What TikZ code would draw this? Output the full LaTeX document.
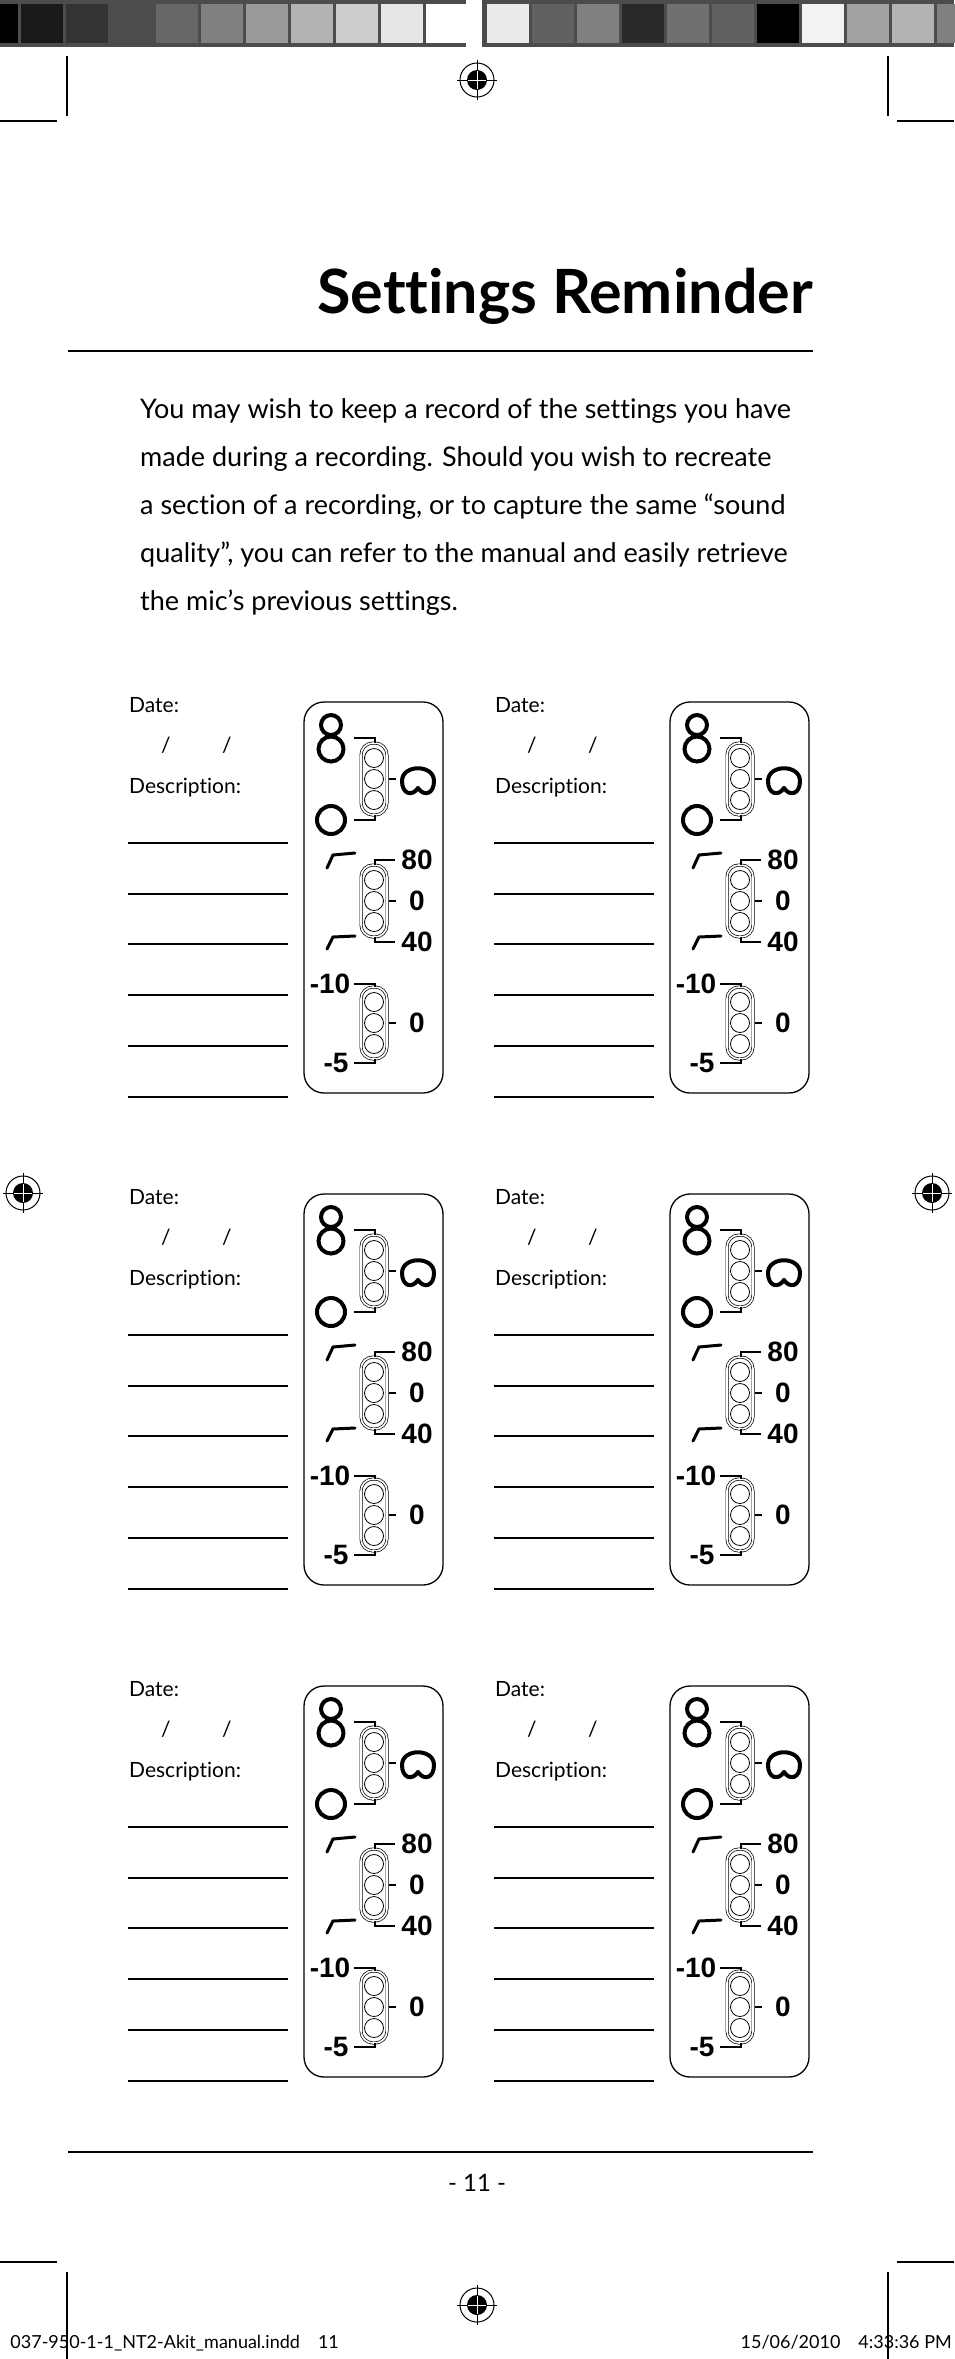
\documentclass[tikz,border=0pt]{standalone}
\usepackage{fontspec}
\setmainfont{Lato}[Ligatures=NoCommon]
\newfontfamily\numfont{Liberation Sans}
\usetikzlibrary{positioning, calc}

\tikzset{
  lbl/.style={font=\fontsize{21}{21}\selectfont, anchor=base west, inner sep=0pt},
  num/.style={font=\numfont\bfseries\fontsize{28}{28}\selectfont, inner sep=0pt},
  sym/.style={line width=4pt, line cap=round},
  rule/.style={line width=1.2pt},
  capsule/.style={line width=0.7pt, double, double distance=1.6pt},
  regmark/.style={line width=1pt}
}
% capsule switch with three positions
\newcommand{\capsw}[2]{%
  \draw[capsule, rounded corners=12pt] (57,#2-36) rectangle (83,#2+36);
  \foreach \k in {-21,0,21} \draw[line width=0.8pt] (70,#2+\k) circle (9.5);
}
\newcommand{\regm}[2]{%
  \draw[regmark] (#1,#2) circle (17);
  \fill (#1,#2) circle (10);
  \draw[regmark] (#1-20,#2) -- (#1+20,#2) (#1,#2-20) -- (#1,#2+20);
  \draw[white, line width=1pt] (#1-9,#2) -- (#1+9,#2) (#1,#2-9) -- (#1,#2+9);
}

\begin{document}
\begin{tikzpicture}[x=1pt, y=-1pt]
\useasboundingbox (0,0) rectangle (954,2359);
% colour bar
\fill[gray!60!black] (0,0) rectangle (466,47);
\fill[gray!60!black] (482,0) rectangle (954,47);
\foreach \g [count=\i from 0] in {0,10,20,30,40,50,60,70,80,90,100} {
  \fill[white!\g!black] ({-24+45*\i},4) rectangle ({18+45*\i},43);
}
\foreach \g [count=\i from 0] in {92,38,50,16,44,38,0,95,63,70,50} {
  \fill[white!\g!black] ({487+45*\i},4) rectangle ({529+45*\i},43);
}
% crop and registration marks
\draw[rule] (67,56) -- (67,116) (888,56) -- (888,116);
\draw[rule] (0,121) -- (57,121) (897,121) -- (954,121);
\draw[rule] (0,2262) -- (57,2262) (897,2262) -- (954,2262);
\draw[rule] (67,2272) -- (67,2359) (888,2272) -- (888,2359);
\regm{477}{80}
\regm{477}{2305}
\regm{23}{1193}
\regm{932}{1193}
% heading
\node[font=\bfseries\fontsize{61}{61}\selectfont, anchor=base east, inner sep=0pt] (title) at (813,313) {Settings Reminder};
\draw[line width=1.5pt] (68,351) -- (813,351);
\node[font=\fontsize{27}{48}\selectfont, anchor=base west, inner sep=0pt, align=left] (intro) at (140,610)
  {You may wish to keep a record of the settings you have\\
   made during a recording. Should you wish to recreate\\
   a section of a recording, or to capture the same ``sound\\
   quality'', you can refer to the manual and easily retrieve\\
   the mic's previous settings.};
% panels
\foreach \px/\py in {304/702, 670/702, 304/1194, 670/1194, 304/1686, 670/1686} {
  \begin{scope}[shift={(\px,\py)}]
    \node[lbl] (date) at (-175,10) {Date:};
    \node[lbl] (sl1) at (-143,50) {/};
    \node[lbl] (sl2) at (-82,50) {/};
    \node[lbl] (desc) at (-175,91) {Description:};
    \foreach \ly in {141,192,242,293,344,395} \draw[rule] (-176,\ly) -- (-16,\ly);
    \draw[line width=1.3pt, rounded corners=20pt] (0,0) rectangle (139,391);
    % polar pattern
    \capsw{70}{77}
    \draw[sym] (27,23) circle (10) (27,47) circle (12.5);
    \draw[sym] (27,118) circle (14);
    \draw[sym] (114,86) .. controls (108,95) and (98,92) .. (98,79) .. controls (98,62) and (130,62) .. (130,79) .. controls (130,92) and (120,95) .. (114,86);
    \draw[line width=2.5pt] (50,36) -- (71,36) -- (71,41) (71,113) -- (71,118) -- (50,118) (85,77) -- (92,77);
    % high pass filter
    \capsw{70}{199}
    \draw[line width=2.5pt] (71,163) -- (71,158) -- (91,158) (85,199) -- (92,199) (71,235) -- (71,240) -- (91,240);
    \node[num] (hp1) at (113,158) {80};
    \node[num] (hp2) at (113,199) {0};
    \node[num] (hp3) at (113,240) {40};
    \draw[sym, line width=3pt] (23,166) -- (29,153) -- (51,151) (23,247) -- (29,235) -- (51,234);
    % pad
    \capsw{70}{321}
    \draw[line width=2.5pt] (50,282) -- (71,282) -- (71,285) (85,321) -- (92,321) (71,357) -- (71,361) -- (50,361);
    \node[num] (pd1) at (26,282) {-10};
    \node[num] (pd2) at (113,321) {0};
    \node[num] (pd3) at (32,361) {-5};
  \end{scope}
}
% footer
\draw[line width=1.5pt] (68,2152) -- (813,2152);
\node[font=\fontsize{24}{24}\selectfont] (page) at (477,2183) {- 11 -};
\node[font=\fontsize{18}{18}\selectfont, anchor=base east, inner sep=0pt] (file) at (339,2348) {037-950-1-1\_NT2-Akit\_manual.indd\quad 11};
\node[font=\fontsize{18}{18}\selectfont, anchor=base east, inner sep=0pt] (stamp) at (952,2348) {15/06/2010\quad 4:33:36 PM};
\end{tikzpicture}
\end{document}
